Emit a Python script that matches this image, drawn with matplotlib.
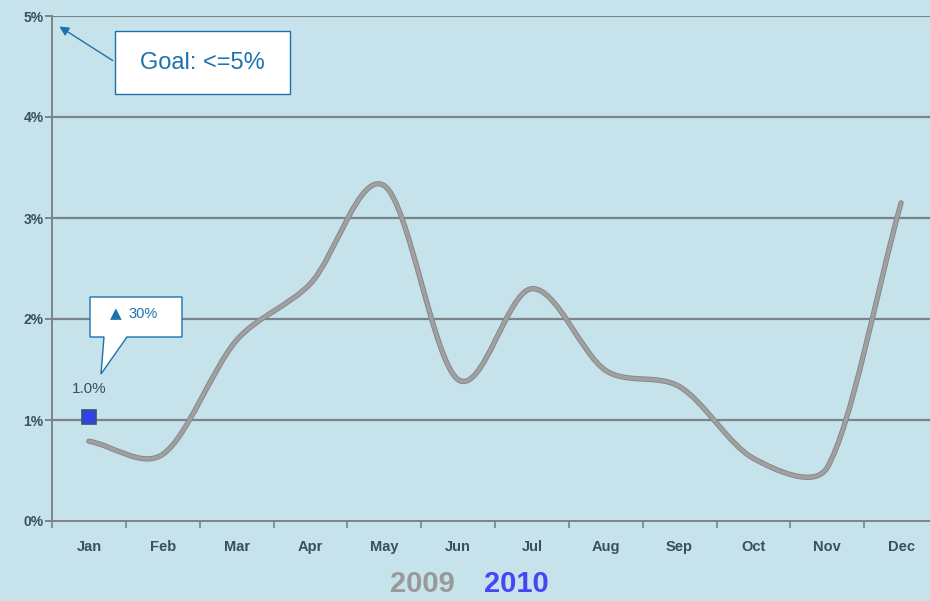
import numpy as np
import matplotlib
matplotlib.use("Agg")
import matplotlib.pyplot as plt
from matplotlib.path import Path
from matplotlib.patches import PathPatch, Rectangle, Polygon, FancyArrowPatch
import matplotlib.patheffects as pe

plt.rcParams['font.family'] = ['Liberation Sans', 'DejaVu Sans']

# ------------------------------------------------------------
# data
# ------------------------------------------------------------
months = ["Jan", "Feb", "Mar", "Apr", "May", "Jun",
          "Jul", "Aug", "Sep", "Oct", "Nov", "Dec"]
rate_2009 = [0.79, 0.66, 1.79, 2.35, 3.32, 1.40,
             2.30, 1.49, 1.33, 0.62, 0.53, 3.15]
rate_2010 = [1.03]
yticks = [0, 1, 2, 3, 4, 5]
ytick_labels = ["0%", "1%", "2%", "3%", "4%", "5%"]

BG = "#c6e2ea"
GRID = "#7b8489"
LABEL = "#3a4f60"
BLUE = "#1d72ad"

W, H = 930, 601
fig = plt.figure(figsize=(W / 100, H / 100), dpi=100, facecolor=BG)


def fx(px):
    return px / W


def fy(py):
    return 1 - py / H


# axes: left edge at 52px, 0% at 521px, 5% at 16px, 73.8px per month
ax = fig.add_axes([fx(52), fy(521), 886 / W, 505 / H])
ax.set_facecolor(BG)
ax.set_xlim(-0.5, 11.5)
ax.set_ylim(0, 5)

for s in ["top", "right"]:
    ax.spines[s].set_visible(False)
for s in ["left", "bottom"]:
    ax.spines[s].set_color(GRID)
    ax.spines[s].set_linewidth(1.4)

ax.set_yticks(yticks)
ax.set_yticklabels(ytick_labels, color=LABEL, fontsize=10, fontweight="bold")
ax.tick_params(axis="y", length=5, width=1.4, color=GRID, pad=1)
for y in yticks[1:]:
    ax.axhline(y, color=GRID, lw=1.6, zorder=1)

ax.set_xticks(range(len(months)))
ax.set_xticklabels(months, color=LABEL, fontsize=10.5, fontweight="bold")
ax.tick_params(axis="x", which="major", length=0, pad=14)
ax.set_xticks(np.arange(-0.5, 12, 1), minor=True)
ax.tick_params(axis="x", which="minor", length=5, width=1.2, color=GRID)

# smoothed 2009 line: Catmull-Rom tangents as cubic Bezier segments,
# control distance capped at 1/3 of the segment length (screen pixels)
sx, sy = 73.8, 101.0
pts = np.column_stack([np.arange(len(rate_2009)) * sx, np.array(rate_2009) * sy])
n = len(pts)
tang = []
for i in range(n):
    a = pts[max(i - 1, 0)]
    b = pts[min(i + 1, n - 1)]
    tang.append((b - a) / (2 if 0 < i < n - 1 else 1))
verts = [pts[0]]
codes = [Path.MOVETO]
for i in range(n - 1):
    L = np.hypot(*(pts[i + 1] - pts[i])) / 3
    t0, t1 = tang[i], tang[i + 1]
    d0 = min(np.hypot(*t0) / 3, L)
    d1 = min(np.hypot(*t1) / 3, L)
    c1 = pts[i] + t0 / np.hypot(*t0) * d0
    c2 = pts[i + 1] - t1 / np.hypot(*t1) * d1
    verts += [c1, c2, pts[i + 1]]
    codes += [Path.CURVE4] * 3
verts = np.array(verts) / [sx, sy]
line = PathPatch(Path(verts, codes), facecolor="none", edgecolor="#a0a0a0",
                 lw=2.6, zorder=3, capstyle="round")
line.set_path_effects([pe.Stroke(linewidth=3.8, foreground="#838383"), pe.Normal()])
ax.add_patch(line)

# 2010 point
ax.plot(range(len(rate_2010)), rate_2010, marker="s", ms=10.5, color="#3340f0",
        mec="#2f5a66", mew=1.2, ls="none", zorder=4)
ax.annotate(f"{rate_2010[0]:.1f}%", (0, rate_2010[0]), xytext=(0, 15),
            textcoords="offset points", ha="center", va="bottom",
            color=LABEL, fontsize=11)

# callout "▲ 30%"
callout = Polygon([[fx(90), fy(297)], [fx(182), fy(297)], [fx(182), fy(337)],
                   [fx(127), fy(337)], [fx(101), fy(374)], [fx(104), fy(337)],
                   [fx(90), fy(337)]],
                  closed=True, transform=fig.transFigure, facecolor="white",
                  edgecolor=BLUE, lw=1.0, zorder=5)
fig.add_artist(callout)
fig.text(fx(116), fy(314), "▲", color=BLUE, fontsize=11, ha="center", va="center",
         family=['DejaVu Sans'], zorder=6)
fig.text(fx(128), fy(314), "30%", color=BLUE, fontsize=10.5, ha="left", va="center",
         zorder=6)

# goal box
goal_box = Rectangle((fx(115), fy(94)), fx(290) - fx(115), fy(31) - fy(94),
                     transform=fig.transFigure, facecolor="white",
                     edgecolor=BLUE, lw=1.0, zorder=5)
fig.add_artist(goal_box)
fig.text(fx(202), fy(63), "Goal: <=5%", color=BLUE, fontsize=17,
         ha="center", va="center", zorder=6)
arrow = FancyArrowPatch((fx(115), fy(62)), (fx(57), fy(25)),
                        transform=fig.transFigure, arrowstyle="-|>",
                        mutation_scale=14, color=BLUE, lw=1.0, zorder=6)
fig.add_artist(arrow)

# legend-like year labels
fig.text(fx(455), fy(584), "2009", color="#999999", fontsize=21, fontweight="bold",
         ha="right", va="center")
fig.text(fx(484), fy(584), "2010", color="#4646f5", fontsize=21, fontweight="bold",
         ha="left", va="center")

fig.savefig("out.png", dpi=100, facecolor=BG)
